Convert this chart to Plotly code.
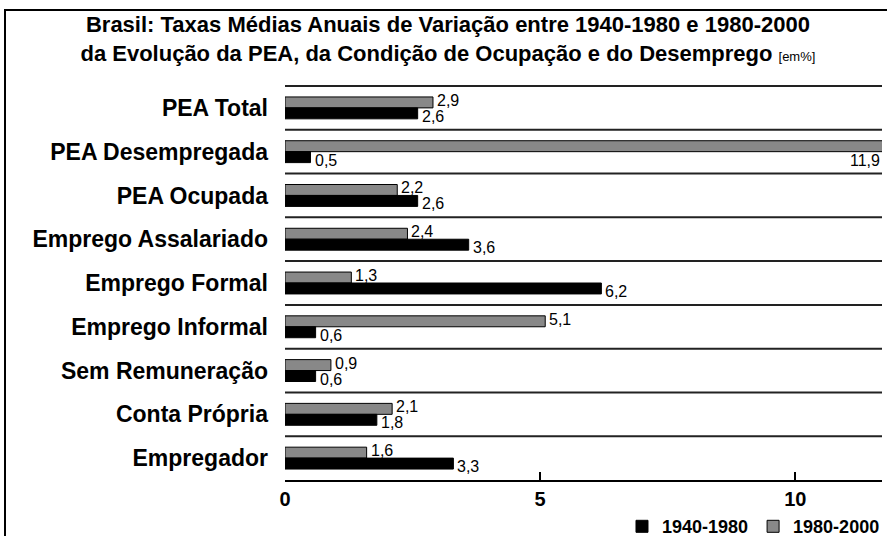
import plotly.graph_objects as go

# ── data ──────────────────────────────────────────────────────────
categories = ['PEA Total', 'PEA Desempregada', 'PEA Ocupada', 'Emprego Assalariado',
              'Emprego Formal', 'Emprego Informal', 'Sem Remuneração', 'Conta Própria',
              'Empregador']
v_1940_1980 = [2.6, 0.5, 2.6, 3.6, 6.2, 0.6, 0.6, 1.8, 3.3]
v_1980_2000 = [2.9, 11.9, 2.2, 2.4, 1.3, 5.1, 0.9, 2.1, 1.6]
x_ticks = [0, 5, 10]

XMAX = 11.7
FONT = 'Liberation Sans, Arial, sans-serif'

# plot area in pixels (used to place frame in paper coords)
L, R, T, B = 285, 5, 85, 56
W, H = 887, 536
pw, ph = W - L - R, H - T - B


def fmt(v):
    return f'{v:.1f}'.replace('.', ',')


fig = go.Figure()

# hatched series drawn first -> sits on top in each row (y reversed)
fig.add_trace(go.Bar(
    y=categories, x=v_1980_2000, orientation='h', name='1980-2000',
    marker=dict(color='white', line=dict(color='black', width=1),
                pattern=dict(shape='.', size=2, solidity=0.5,
                             fgcolor='#111', bgcolor='#e6e6e6', fillmode='replace')),
    hoverinfo='x+y',
))
fig.add_trace(go.Bar(
    y=categories, x=v_1940_1980, orientation='h', name='1940-1980',
    marker=dict(color='black', line=dict(color='black', width=1)),
    hoverinfo='x+y',
))

# ── value labels ──────────────────────────────────────────────────
ann = []
for i, (a, b) in enumerate(zip(v_1980_2000, v_1940_1980)):
    if a > XMAX:
        ann.append(dict(x=XMAX, y=i + 0.125, text=fmt(a), xanchor='right',
                        yshift=-3, showarrow=False))
    else:
        ann.append(dict(x=a, y=i - 0.125, text=fmt(a), xanchor='left',
                        xshift=2, yshift=2, showarrow=False))
    ann.append(dict(x=b, y=i + 0.125, text=fmt(b), xanchor='left',
                    xshift=2, yshift=-3, showarrow=False))
for a in ann:
    a.update(xref='x', yref='y', font=dict(family=FONT, size=16, color='black'))

# ── row separators + outer frame ──────────────────────────────────
shapes = [dict(type='line', xref='paper', yref='y', x0=0, x1=1, y0=i - 0.5, y1=i - 0.5,
               line=dict(color='#222', width=2)) for i in range(len(categories))]
shapes.append(dict(type='rect', xref='paper', yref='paper',
                   x0=(5 - L) / pw, x1=(W + 20 - L) / pw,
                   y0=-(H + 20 - T - ph) / ph, y1=(H - B - 10) / ph,
                   line=dict(color='black', width=2), fillcolor='rgba(0,0,0,0)'))

fig.update_layout(
    width=W, height=H,
    margin=dict(l=L, r=R, t=T, b=B, autoexpand=False),
    paper_bgcolor='white', plot_bgcolor='white',
    font=dict(family=FONT, color='black'),
    title=dict(
        text='Brasil: Taxas Médias Anuais de Variação entre 1940-1980 e 1980-2000<br>'
             'da Evolução da PEA, da Condição de Ocupação e do Desemprego '
             '<span style="font-size:13px;font-weight:normal">[em%]</span>',
        x=0.505, xanchor='center', y=0.94, yanchor='top',
        font=dict(family=FONT, size=22, weight='bold', color='black'),
    ),
    barmode='group', bargap=0.5, bargroupgap=0,
    xaxis=dict(range=[0, XMAX], tickvals=x_ticks, showgrid=False, zeroline=False,
               showline=True, linecolor='black', linewidth=2,
               ticks='inside', ticklen=8, tickwidth=2, tickcolor='black',
               tickfont=dict(family=FONT, size=20, weight='bold')),
    yaxis=dict(autorange='reversed', showgrid=False, showline=False, ticks='',
               ticklabelstandoff=16,
               tickfont=dict(family=FONT, size=23, weight='bold')),
    legend=dict(orientation='h', x=1.005, xanchor='right', y=-0.118, yanchor='middle',
                traceorder='reversed', font=dict(family=FONT, size=18, weight='bold'),
                itemwidth=30, bgcolor='rgba(0,0,0,0)'),
    annotations=ann, shapes=shapes,
)

fig.write_html('out.html', config={'displayModeBar': False},
               post_script="document.body.style.margin='0';")
